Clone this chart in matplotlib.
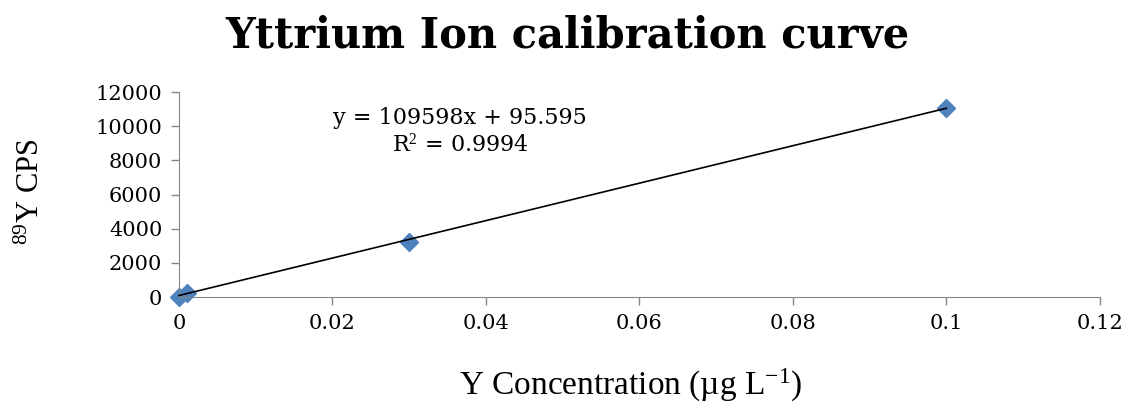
import numpy as np
import matplotlib
matplotlib.use("Agg")
import matplotlib.pyplot as plt

plt.rcParams["mathtext.fontset"] = "custom"
plt.rcParams["mathtext.rm"] = "Liberation Serif"
plt.rcParams["mathtext.it"] = "Liberation Serif:italic"

# calibration data
conc = [0, 0.001, 0.03, 0.1]
cps = [0, 230, 3250, 11100]

# linear trendline as printed on the chart
slope = 109598
intercept = 95.595

xticks = [0, 0.02, 0.04, 0.06, 0.08, 0.1, 0.12]
xticklabels = ["0", "0.02", "0.04", "0.06", "0.08", "0.1", "0.12"]
yticks = [0, 2000, 4000, 6000, 8000, 10000, 12000]

fig = plt.figure(figsize=(11.28, 4.15), dpi=100)
ax = fig.add_axes([0.1587, 0.284, 0.8163, 0.494])

xfit = np.array([conc[0], conc[-1]])
ax.plot(xfit, slope * xfit + intercept, color="black", lw=1.2, zorder=3,
        clip_on=False)
ax.plot(conc, cps, ls="none", marker="D", ms=9.5, color="#4F81BD", zorder=2,
        clip_on=False)

ax.set_xlim(0, 0.12)
ax.set_ylim(0, 12000)
ax.set_xticks(xticks)
ax.set_xticklabels(xticklabels)
ax.set_yticks(yticks)

for s in ["top", "right"]:
    ax.spines[s].set_visible(False)
for s in ["left", "bottom"]:
    ax.spines[s].set_color("#868686")
ax.tick_params(colors="#868686", length=6, width=1, labelcolor="black",
               labelsize=15, pad=6)
for lab in ax.get_xticklabels() + ax.get_yticklabels():
    lab.set_family("DejaVu Serif")

ax.text(0.0366, 9700, "y = 109598x + 95.595\nR$^{2}$ = 0.9994", ha="center",
        va="center", fontsize=16, family="DejaVu Serif", linespacing=1.25)

fig.text(0.503, 0.915, "Yttrium Ion calibration curve", ha="center", va="center",
         fontsize=30, fontweight="bold", family="DejaVu Serif")
fig.text(0.028, 0.537, "$^{89}$Y CPS", rotation=90, ha="center", va="center",
         fontsize=22, family="Liberation Serif")
fig.text(0.559, 0.072, "Y Concentration (µg L$^{-1}$)", ha="center", va="center",
         fontsize=24, family="Liberation Serif")

fig.savefig("out.png", dpi=100)
